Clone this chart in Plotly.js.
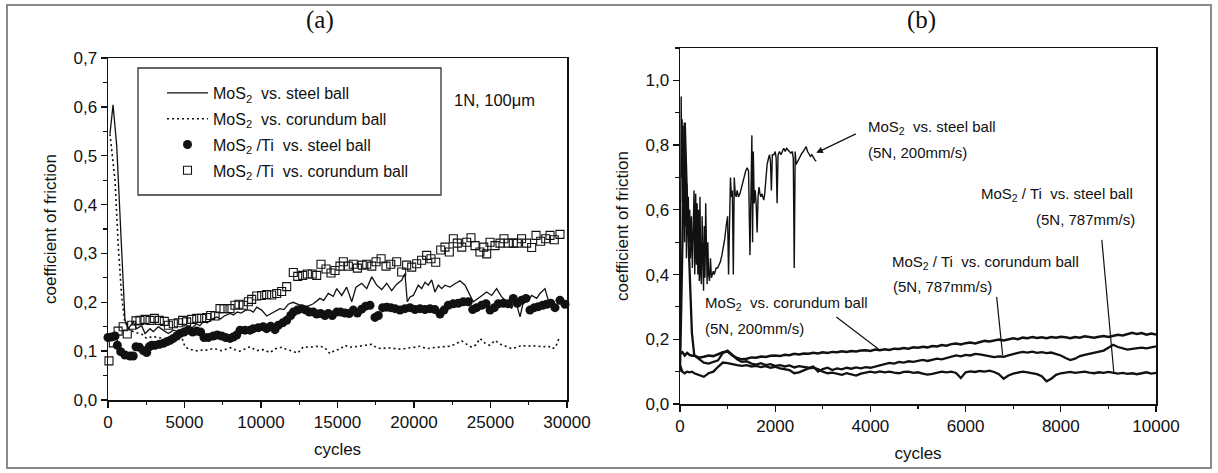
<!DOCTYPE html>
<html><head><meta charset="utf-8">
<script src="https://cdn.plot.ly/plotly-3.0.1.min.js"></script>
<style>html,body{margin:0;padding:0;background:#fff}#chart{width:1218px;height:473px}</style>
</head><body><div id="chart"></div>
<script>
// ---------- Panel (a): 1N, 100 µm ----------
const legendNames = [
  'MoS<sub>2</sub>  vs. steel ball',
  'MoS<sub>2</sub>  vs. corundum ball',
  'MoS<sub>2</sub> /Ti  vs. steel ball',
  'MoS<sub>2</sub> /Ti  vs. corundum ball'
];

const steelA_x = [
  130,330,570,800,1000,1110,1330,1650,1875,2200,
  2420,2745,2960,3290,3600,3945,4270,4600,4920,5250,
  5500,5800,6000,6230,6500,6750,7100,7350,7600,7975,
  8200,8450,8700,9000,9280,9500,9720,10045,10370,10800,
  11240,11500,11785,12090,12550,12990,13420,13855,14100,14400,
  14725,14950,15275,15600,15930,16210,16580,16910,17240,17560,
  17890,18215,18540,18870,19195,19410,19560,19740,19955,20280,
  20500,20720,20935,21155,21370,21590,21810,22025,22350,22680,
  23005,23335,23660,23875,24315,24750,25080,25400,25730,26060,
  26385,26600,26930,27145,27470,27690,28020,28235,28560,28780
];
const steelA_y = [
  0.545,0.604,0.52,0.38,0.24,0.163,0.146,0.160,0.146,0.152,
  0.136,0.146,0.140,0.150,0.143,0.136,0.143,0.140,0.146,0.150,
  0.148,0.156,0.152,0.160,0.158,0.165,0.170,0.166,0.172,0.177,
  0.174,0.180,0.178,0.184,0.184,0.180,0.190,0.184,0.172,0.180,
  0.187,0.185,0.196,0.200,0.194,0.191,0.197,0.208,0.204,0.218,
  0.212,0.228,0.214,0.231,0.201,0.231,0.239,0.228,0.252,0.235,
  0.226,0.239,0.224,0.237,0.245,0.259,0.201,0.211,0.214,0.235,
  0.228,0.241,0.235,0.246,0.221,0.235,0.228,0.235,0.231,0.238,
  0.244,0.235,0.214,0.201,0.211,0.221,0.214,0.228,0.211,0.201,
  0.187,0.208,0.170,0.201,0.204,0.214,0.208,0.218,0.228,0.204
];

const corundumA_x = [
  130,300,460,675,895,1100,1440,1800,2200,2530,
  2900,3300,3700,4100,4500,4815,5030,5300,5580,5900,
  6200,6500,6800,7100,7400,7700,8000,8300,8600,8900,
  9280,9720,10150,10590,10950,11350,11700,12050,12400,12770,
  13100,13450,13800,14150,14510,14850,15150,15490,15800,16150,
  16500,16850,17240,17560,17900,18250,18600,18950,19300,19700,
  20050,20390,20830,21200,21550,21900,22300,22680,23120,23450,
  23770,24050,24310,24650,24950,25295,25650,26000,26385,26700,
  27050,27400,27750,28100,28450,28800,29000,29250,29500
];
const corundumA_y = [
  0.544,0.50,0.449,0.313,0.211,0.16,0.143,0.138,0.135,0.126,
  0.130,0.128,0.125,0.128,0.126,0.129,0.109,0.104,0.102,0.100,
  0.103,0.102,0.105,0.104,0.101,0.104,0.107,0.103,0.100,0.104,
  0.109,0.101,0.103,0.097,0.105,0.108,0.103,0.100,0.096,0.109,
  0.108,0.109,0.110,0.108,0.095,0.102,0.104,0.112,0.108,0.109,
  0.110,0.112,0.114,0.107,0.105,0.107,0.106,0.104,0.105,0.106,
  0.108,0.110,0.105,0.107,0.108,0.108,0.110,0.114,0.121,0.114,
  0.108,0.113,0.126,0.116,0.112,0.122,0.114,0.110,0.105,0.108,
  0.112,0.110,0.111,0.110,0.109,0.110,0.105,0.108,0.128
];

const tiSteelA_x = [
  0,240,460,610,830,1110,1440,1650,1830,2050,
  2310,2530,2700,2855,3070,3355,3615,3835,4050,4270,
  4490,4705,4965,5250,5535,5800,6060,6275,6555,6880,
  7145,7430,7690,7975,8190,8410,8630,8950,9280,9500,
  9825,10150,10370,10630,10915,11130,11420,11680,11940,12110,
  12375,12660,12940,13160,13420,13640,13900,14180,14400,14660,
  14950,15210,15490,15770,16030,16300,16580,16840,17125,17450,
  17670,17950,18215,18480,18760,19085,19410,19740,20065,20390,
  20720,21045,21370,21700,21960,22240,22570,22895,23225,23550,
  23835,24095,24425,24705,24970,25250,25510,25840,26165,26490,
  26750,27030,27320,27580,27865,28125,28410,28670,28935,29215,
  29540,29870
];
const tiSteelA_y = [
  0.128,0.129,0.131,0.112,0.099,0.092,0.090,0.090,0.109,0.108,
  0.101,0.097,0.109,0.112,0.112,0.114,0.116,0.119,0.122,0.126,
  0.131,0.136,0.139,0.143,0.139,0.141,0.139,0.128,0.128,0.131,
  0.133,0.131,0.128,0.126,0.129,0.133,0.143,0.143,0.143,0.146,
  0.148,0.150,0.146,0.151,0.144,0.153,0.158,0.163,0.173,0.180,
  0.184,0.187,0.184,0.180,0.180,0.176,0.177,0.173,0.177,0.173,
  0.180,0.180,0.178,0.177,0.184,0.178,0.186,0.192,0.194,0.169,
  0.173,0.189,0.190,0.189,0.187,0.184,0.187,0.189,0.185,0.187,
  0.185,0.187,0.185,0.176,0.184,0.194,0.197,0.198,0.201,0.201,
  0.185,0.189,0.194,0.197,0.184,0.189,0.197,0.198,0.197,0.208,
  0.198,0.204,0.208,0.184,0.189,0.191,0.194,0.196,0.198,0.189,
  0.204,0.196
];

const tiCorundumA_x = [
  65,350,660,990,1260,1550,1830,2090,2420,2745,
  3030,3350,3680,3945,4270,4595,4880,5140,5470,5800,
  6125,6450,6710,7000,7320,7580,7975,8300,8560,8845,
  9170,9390,9720,10045,10370,10700,11025,11350,11680,12110,
  12400,12725,13030,13350,13640,13920,14250,14575,14840,15160,
  15380,15710,16030,16300,16620,16910,17240,17520,17850,18170,
  18480,18870,19195,19520,19850,20175,20500,20830,21110,21420,
  21745,22025,22310,22570,22830,23120,23445,23725,23990,24310,
  24560,24750,24970,25295,25620,25880,26165,26490,26750,27030,
  27360,27690,27975,28280,28610,28890,29170,29540
];
const tiCorundumA_y = [
  0.080,0.117,0.141,0.150,0.135,0.153,0.162,0.163,0.165,0.163,
  0.167,0.163,0.161,0.153,0.156,0.158,0.163,0.160,0.165,0.167,
  0.167,0.169,0.173,0.172,0.187,0.187,0.187,0.194,0.196,0.194,
  0.201,0.206,0.213,0.214,0.216,0.215,0.218,0.222,0.232,0.261,
  0.253,0.255,0.258,0.258,0.255,0.278,0.268,0.260,0.265,0.274,
  0.283,0.274,0.278,0.270,0.276,0.278,0.274,0.283,0.289,0.274,
  0.278,0.283,0.262,0.276,0.272,0.279,0.286,0.296,0.289,0.282,
  0.307,0.313,0.303,0.330,0.321,0.313,0.323,0.332,0.316,0.303,
  0.313,0.299,0.323,0.316,0.321,0.330,0.321,0.321,0.321,0.330,
  0.321,0.312,0.337,0.325,0.330,0.337,0.328,0.339
];

// ---------- Panel (b): 5N ----------
const steelB_x = [
  0,15,25,35,45,55,65,75,85,95,
  105,115,125,135,145,160,175,190,205,220,
  240,260,280,295,310,330,345,360,375,390,
  405,420,435,450,465,480,495,510,525,540,
  555,570,585,600,620,640,660,680,700,720,
  740,760,790,820,850,880,910,940,970,1000,
  1020,1040,1060,1080,1100,1120,1140,1160,1180,1200,
  1230,1260,1290,1320,1350,1380,1410,1440,1470,1490,
  1510,1525,1540,1560,1580,1600,1620,1640,1660,1680,
  1700,1720,1740,1760,1780,1800,1830,1860,1880,1900,
  1920,1940,1970,2000,2020,2040,2060,2090,2120,2150,
  2180,2210,2240,2270,2300,2330,2360,2380,2400,2420,
  2440,2470,2500,2530,2560,2590,2620,2650,2680,2710,
  2740,2770,2800,2830,2860
];
const steelB_y = [
  0.12,0.55,0.95,0.70,0.88,0.62,0.86,0.58,0.80,0.50,
  0.74,0.55,0.70,0.45,0.68,0.52,0.64,0.50,0.60,0.45,
  0.58,0.42,0.52,0.66,0.40,0.65,0.43,0.62,0.40,0.60,
  0.38,0.64,0.40,0.37,0.58,0.38,0.35,0.55,0.39,0.62,
  0.40,0.37,0.50,0.40,0.38,0.45,0.39,0.40,0.41,0.40,
  0.41,0.42,0.42,0.43,0.44,0.46,0.48,0.51,0.55,0.58,
  0.40,0.60,0.70,0.64,0.66,0.40,0.70,0.65,0.64,0.66,
  0.64,0.65,0.67,0.69,0.70,0.72,0.73,0.72,0.46,0.73,
  0.83,0.50,0.78,0.62,0.66,0.62,0.53,0.64,0.67,0.65,
  0.64,0.65,0.64,0.63,0.65,0.70,0.74,0.76,0.77,0.75,
  0.66,0.77,0.77,0.78,0.76,0.62,0.77,0.78,0.77,0.78,
  0.79,0.78,0.79,0.785,0.78,0.775,0.78,0.76,0.42,0.78,
  0.74,0.75,0.76,0.77,0.775,0.78,0.79,0.795,0.78,0.77,
  0.765,0.77,0.76,0.755,0.75
];

const cyclesB = [
  0,50,100,150,200,250,300,
  400,500,600,700,800,900,1000,1100,1200,1300,
  1400,1500,1600,1700,1800,1900,2000,2100,2200,2300,
  2400,2500,2600,2700,2800,2900,3000,3100,3200,3300,
  3400,3500,3600,3700,3800,3900,4000,4100,4200,4300,
  4400,4500,4600,4700,4800,4900,5000,5100,5200,5300,
  5400,5500,5600,5700,5800,5900,6000,6100,6200,6300,
  6400,6500,6600,6700,6800,6900,7000,7100,7200,7300,
  7400,7500,7600,7700,7800,7900,8000,8100,8200,8300,
  8400,8500,8600,8700,8800,8900,9000,9100,9200,9300,
  9400,9500,9600,9700,9800,9900,10000
];
const corundumB_y = [
  0.155,0.160,0.150,0.158,0.152,0.149,0.150,
  0.143,0.146,0.150,0.148,0.155,0.160,0.162,0.150,0.142,0.138,
  0.140,0.144,0.143,0.147,0.145,0.149,0.150,0.148,0.152,0.151,
  0.155,0.153,0.156,0.155,0.158,0.156,0.160,0.158,0.161,0.160,
  0.163,0.161,0.164,0.162,0.165,0.166,0.164,0.168,0.166,0.169,
  0.167,0.171,0.170,0.173,0.171,0.175,0.174,0.177,0.175,0.179,
  0.178,0.182,0.180,0.185,0.187,0.184,0.188,0.190,0.187,0.192,
  0.195,0.193,0.197,0.199,0.196,0.200,0.203,0.200,0.205,0.203,
  0.207,0.204,0.206,0.203,0.207,0.205,0.208,0.206,0.203,0.207,
  0.205,0.209,0.207,0.205,0.208,0.210,0.207,0.211,0.214,0.212,
  0.217,0.220,0.216,0.219,0.214,0.218,0.215
];
const tiCorundumB_y = [
  0.10,0.55,0.87,0.62,0.40,0.22,0.15,
  0.140,0.128,0.125,0.130,0.135,0.158,0.165,0.152,0.138,0.130,
  0.132,0.125,0.122,0.126,0.120,0.123,0.118,0.120,0.116,0.119,
  0.113,0.117,0.115,0.112,0.116,0.100,0.108,0.112,0.105,0.110,
  0.107,0.112,0.109,0.113,0.110,0.114,0.112,0.116,0.118,0.122,
  0.127,0.125,0.130,0.128,0.132,0.130,0.134,0.136,0.133,0.137,
  0.140,0.138,0.142,0.146,0.150,0.147,0.152,0.150,0.155,0.153,
  0.150,0.148,0.145,0.147,0.146,0.150,0.155,0.158,0.161,0.159,
  0.162,0.158,0.160,0.157,0.159,0.155,0.150,0.142,0.136,0.140,
  0.148,0.152,0.155,0.158,0.160,0.165,0.174,0.183,0.176,0.172,
  0.168,0.170,0.172,0.174,0.172,0.176,0.178
];
const tiSteelB_y = [
  0.12,0.10,0.095,0.10,0.098,0.10,0.095,
  0.090,0.084,0.095,0.100,0.115,0.128,0.126,0.122,0.120,0.118,
  0.120,0.116,0.118,0.114,0.117,0.112,0.115,0.110,0.108,0.105,
  0.095,0.098,0.104,0.110,0.112,0.108,0.100,0.095,0.097,0.093,
  0.090,0.095,0.092,0.088,0.094,0.098,0.100,0.097,0.101,0.098,
  0.100,0.097,0.095,0.099,0.100,0.096,0.098,0.094,0.091,0.093,
  0.097,0.100,0.098,0.100,0.096,0.080,0.098,0.101,0.099,0.102,
  0.100,0.103,0.099,0.092,0.078,0.088,0.094,0.097,0.100,0.098,
  0.096,0.092,0.086,0.070,0.078,0.090,0.095,0.097,0.099,0.096,
  0.098,0.100,0.097,0.095,0.098,0.096,0.099,0.097,0.094,0.096,
  0.093,0.095,0.092,0.095,0.098,0.094,0.096
];

const INK = '#111';
const traces = [
  {x: steelA_x, y: steelA_y, name: legendNames[0], mode: 'lines', type: 'scatter',
   line: {color: INK, width: 1.3}, legendgroup: 'g1'},
  {x: corundumA_x, y: corundumA_y, name: legendNames[1], mode: 'lines', type: 'scatter',
   line: {color: INK, width: 1.6, dash: '2px,3px'}, legendgroup: 'g2'},
  {x: tiSteelA_x, y: tiSteelA_y, name: legendNames[2], mode: 'markers', type: 'scatter',
   marker: {symbol: 'circle', size: 9, color: INK}, cliponaxis: false, legendgroup: 'g3'},
  {x: tiCorundumA_x, y: tiCorundumA_y, name: legendNames[3], mode: 'markers', type: 'scatter',
   marker: {symbol: 'square-open', size: 8, color: INK, line: {width: 1.1, color: INK}}, cliponaxis: false, legendgroup: 'g4'},
  {x: steelB_x, y: steelB_y, xaxis: 'x2', yaxis: 'y2', mode: 'lines', type: 'scatter',
   line: {color: INK, width: 1.4}, showlegend: false},
  {x: cyclesB, y: corundumB_y, xaxis: 'x2', yaxis: 'y2', mode: 'lines', type: 'scatter',
   line: {color: INK, width: 2.5}, showlegend: false},
  {x: cyclesB, y: tiCorundumB_y, xaxis: 'x2', yaxis: 'y2', mode: 'lines', type: 'scatter',
   line: {color: INK, width: 2.3}, showlegend: false},
  {x: cyclesB, y: tiSteelB_y, xaxis: 'x2', yaxis: 'y2', mode: 'lines', type: 'scatter',
   line: {color: INK, width: 2.3}, showlegend: false}
];

const W = 1218, H = 473;
const axisBase = {
  showline: true, linecolor: INK, linewidth: 1.5, mirror: true,
  ticks: 'outside', ticklen: 6, tickwidth: 1.3, tickcolor: INK,
  showgrid: false, zeroline: false, tickfont: {size: 17, color: INK},
  fixedrange: true
};
const xA = Object.assign({}, axisBase, {
  domain: [108/W, 567/W], range: [0, 30000], anchor: 'y',
  tick0: 0, dtick: 5000, exponentformat: 'none',
  minor: {ticks: 'outside', ticklen: 3.5, tickwidth: 1.1, tickcolor: INK, dtick: 2500},
  title: {text: 'cycles', font: {size: 17, color: INK}, standoff: 12}
});
const yA = Object.assign({}, axisBase, {
  domain: [1 - 400/H, 1 - 58/H], range: [0, 0.7], anchor: 'x',
  tick0: 0, dtick: 0.1, tickformat: '.1f',
  minor: {ticks: 'outside', ticklen: 3.5, tickwidth: 1.1, tickcolor: INK, dtick: 0.05},
  title: {text: 'coefficient of friction', font: {size: 17, color: INK}, standoff: 12}
});
const xB = Object.assign({}, axisBase, {
  domain: [680/W, 1156/W], range: [0, 10000], anchor: 'y2',
  tick0: 0, dtick: 2000, exponentformat: 'none',
  minor: {ticks: 'outside', ticklen: 3.5, tickwidth: 1.1, tickcolor: INK, dtick: 1000},
  title: {text: 'cycles', font: {size: 17, color: INK}, standoff: 12}
});
const yB = Object.assign({}, axisBase, {
  domain: [1 - 404/H, 1 - 48/H], range: [0, 1.1], anchor: 'x2',
  tick0: 0, dtick: 0.2, tickformat: '.1f',
  minor: {ticks: 'outside', ticklen: 3.5, tickwidth: 1.1, tickcolor: INK, dtick: 0.1},
  title: {text: 'coefficient of friction', font: {size: 17, color: INK}, standoff: 12}
});

function leader(x0, y0, x1, y1) {
  return {type: 'line', xref: 'x2', yref: 'y2', x0: x0, y0: y0, x1: x1, y1: y1,
          line: {color: INK, width: 1.2}};
}
function noteB(text, x, y, xanchor) {
  return {text: text, x: x, y: y, xref: 'x2', yref: 'y2', xanchor: xanchor, yanchor: 'middle',
          showarrow: false, font: {size: 15, color: INK}};
}

const layout = {
  width: W, height: H,
  margin: {l: 0, r: 0, t: 0, b: 0},
  paper_bgcolor: '#fff', plot_bgcolor: '#fff',
  separators: ',',
  font: {family: '"Liberation Sans", Arial, sans-serif', size: 17, color: INK},
  showlegend: true,
  legend: {
    x: 162/W, y: 1 - 76/H, xanchor: 'left', yanchor: 'top',
    bgcolor: 'rgba(0,0,0,0)', borderwidth: 0,
    font: {size: 16, color: INK}, itemwidth: 41,
    traceorder: 'grouped', tracegroupgap: 2
  },
  xaxis: xA, yaxis: yA, xaxis2: xB, yaxis2: yB,
  shapes: [
    {type: 'rect', xref: 'paper', yref: 'paper', x0: 7/W, x1: 1211/W, y0: 1 - 468/H, y1: 1 - 5/H,
     line: {color: '#8a8a8a', width: 2}},
    {type: 'rect', xref: 'paper', yref: 'paper', x0: 138/W, x1: 441/W, y0: 1 - 195/H, y1: 1 - 68/H,
     line: {color: '#333', width: 1.3}},
    leader(3284, 0.269, 4168, 0.170),
    leader(6652, 0.331, 6778, 0.151),
    leader(8862, 0.507, 9115, 0.096)
  ],
  annotations: [
    {text: '(a)', x: 320/W, y: 1 - 20/H, xref: 'paper', yref: 'paper', xanchor: 'center', yanchor: 'middle',
     showarrow: false, font: {family: '"Liberation Serif", "Times New Roman", serif', size: 25, color: INK}},
    {text: '(b)', x: 921/W, y: 1 - 20/H, xref: 'paper', yref: 'paper', xanchor: 'center', yanchor: 'middle',
     showarrow: false, font: {family: '"Liberation Serif", "Times New Roman", serif', size: 25, color: INK}},
    {text: '1N, 100\u03bcm', x: 494/W, y: 1 - 100/H, xref: 'paper', yref: 'paper', xanchor: 'center', yanchor: 'middle',
     showarrow: false, font: {size: 16.5, color: INK}},
    noteB('MoS<sub>2</sub>  vs. steel ball', 3915, 0.853, 'left'),
    noteB('(5N, 200mm/s)', 3915, 0.776, 'left'),
    noteB('MoS<sub>2</sub> / Ti  vs. steel ball', 9557, 0.646, 'right'),
    noteB('(5N, 787mm/s)', 9600, 0.569, 'right'),
    noteB('MoS<sub>2</sub> / Ti  vs. corundum ball', 4420, 0.436, 'left'),
    noteB('(5N, 787mm/s)', 4440, 0.362, 'left'),
    noteB('MoS<sub>2</sub>  vs. corundum ball', 484, 0.312, 'left'),
    noteB('(5N, 200mm/s)', 484, 0.232, 'left'),
    {text: '', x: 2863, y: 0.776, ax: 3726, ay: 0.837, xref: 'x2', yref: 'y2',
     axref: 'x2', ayref: 'y2', showarrow: true, arrowhead: 2, arrowsize: 1.1,
     arrowwidth: 1.2, arrowcolor: INK}
  ]
};

Plotly.newPlot('chart', traces, layout, {staticPlot: true, displayModeBar: false});
</script>
</body></html>
